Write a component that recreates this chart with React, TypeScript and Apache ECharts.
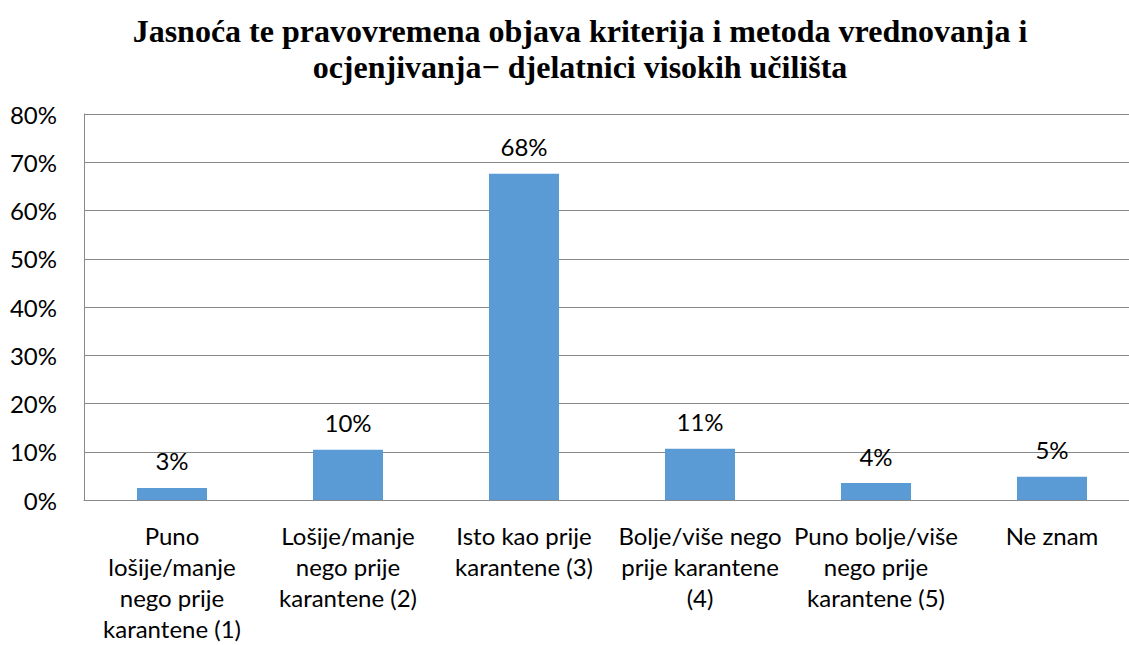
import React, { useEffect, useRef } from "react";
import * as echarts from "echarts";

const titleText = "Jasnoća te pravovremena objava kriterija i metoda vrednovanja i\nocjenjivanja− djelatnici visokih učilišta";
const categories = [
  "Puno\nlošije/manje\nnego prije\nkarantene (1)",
  "Lošije/manje\nnego prije\nkarantene (2)",
  "Isto kao prije\nkarantene (3)",
  "Bolje/više nego\nprije karantene\n(4)",
  "Puno bolje/više\nnego prije\nkarantene (5)",
  "Ne znam",
];
const values = [2.5, 10.4, 67.6, 10.6, 3.5, 4.8];
const valueLabels = ["3%", "10%", "68%", "11%", "4%", "5%"];
const yTicks = [0, 10, 20, 30, 40, 50, 60, 70, 80];

export default function App() {
  const ref = useRef<HTMLDivElement>(null);
  useEffect(() => {
    if (!ref.current) return;
    const chart = echarts.init(ref.current, null, { renderer: "svg" });
    chart.setOption({
      animation: false,
      backgroundColor: "#ffffff",
      title: {
        text: titleText,
        left: 575,
        textAlign: "center",
        top: 8,
        textStyle: {
          fontFamily: "Liberation Serif",
          fontWeight: "bold",
          fontSize: 32,
          lineHeight: 36,
          color: "#000000",
        },
      },
      grid: { left: 84, right: 0, top: 114, bottom: 145, containLabel: false },
      xAxis: {
        type: "category",
        data: categories,
        axisLine: { show: true, lineStyle: { color: "#898989", width: 1 } },
        axisTick: { show: false },
        axisLabel: {
          interval: 0,
          margin: 20,
          fontFamily: "Lato",
          fontSize: 24,
          lineHeight: 31,
          color: "#000000",
        },
      },
      yAxis: {
        type: "value",
        min: yTicks[0],
        max: yTicks[yTicks.length - 1],
        interval: 10,
        axisLine: { show: true, lineStyle: { color: "#898989", width: 1 } },
        axisTick: { show: false },
        splitLine: { lineStyle: { color: "#898989", width: 1 } },
        axisLabel: {
          margin: 27,
          fontFamily: "Lato",
          fontSize: 24,
          color: "#000000",
          formatter: (v: number) => v + "%",
        },
      },
      series: [
        {
          type: "bar",
          data: values,
          barWidth: 70,
          itemStyle: { color: "#5B9BD5" },
          label: {
            show: true,
            position: "top",
            distance: 15,
            fontFamily: "Lato",
            fontSize: 24,
            color: "#000000",
            formatter: (p: any) => valueLabels[p.dataIndex],
          },
        },
      ],
    });
    return () => chart.dispose();
  }, []);
  return (
    <div
      style={{ position: "absolute", left: 0, top: 0, width: 1129, height: 645, overflow: "hidden" }}
    >
      <div ref={ref} style={{ width: 1140, height: 645 }} />
    </div>
  );
}
